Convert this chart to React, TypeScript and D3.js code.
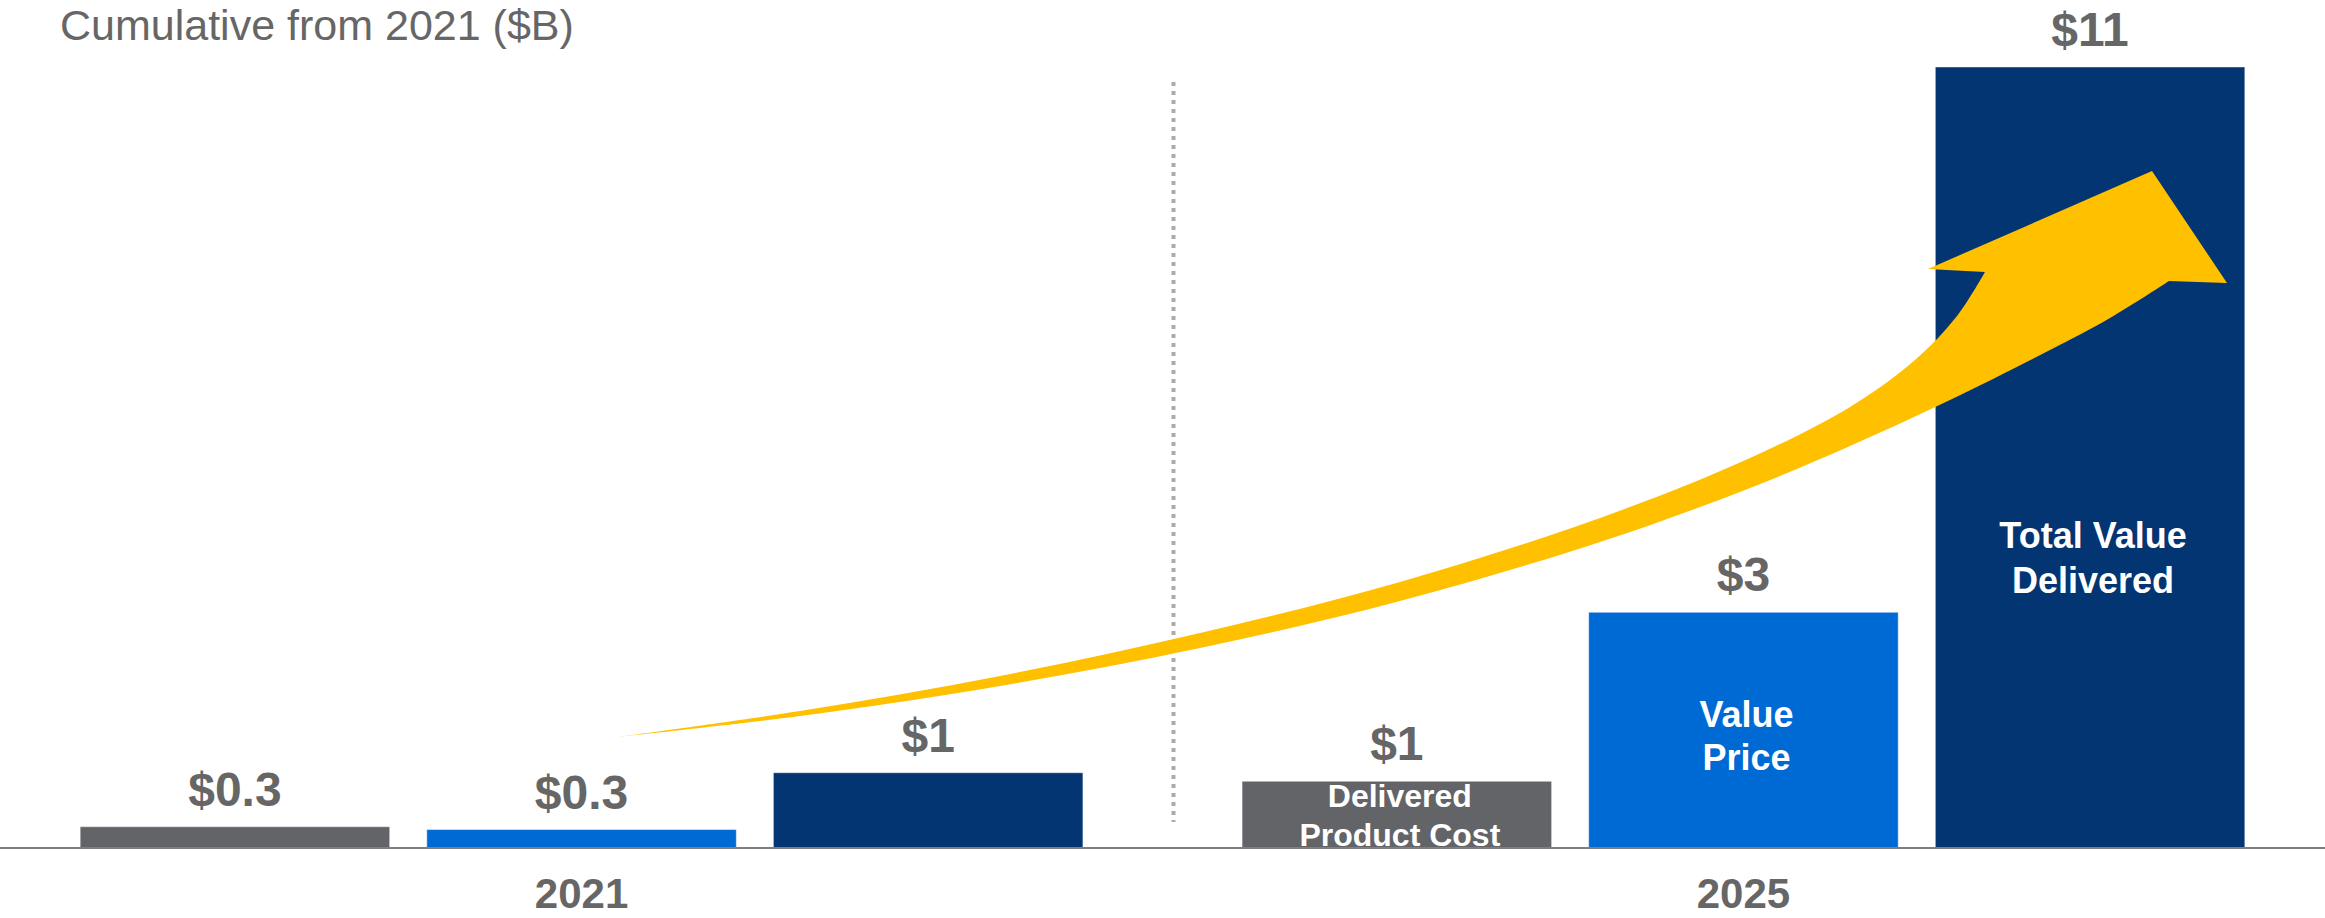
import React from "react";
import * as d3 from "d3";

// ---- data ----
const groups = ["2021", "2025"];
const series = ["Delivered Product Cost", "Value Price", "Total Value Delivered"];
const values2021 = [0.3, 0.26, 1.06];
const values2025 = [0.94, 3.32, 11.0];
const labels2021 = ["$0.3", "$0.3", "$1"];
const labels2025 = ["$1", "$3", "$11"];
const innerLabels2025 = [["Delivered", "Product Cost"], ["Value", "Price"], ["Total Value", "Delivered"]];
const title = "Cumulative from 2021 ($B)";

// ---- styles / layout ----
const W = 2325;
const H = 918;
const BASE_Y = 848;
const TOP_Y = 67;
const COLORS = ["#636467", "#006AD4", "#033572"];
const TEXT = "#666666";
const FONT = "'Liberation Sans', Arial, Helvetica, sans-serif";
const innerFont = [32, 36, 36];
const innerBaseOffsets = [[41, 2], [121, 78], [300, 255]]; // px above axis line

// decorative growth arrow (annotation, pixel space)
const ARROW_UPPER: [number, number][] = [
  [617, 737], [800, 711], [1000, 676], [1200, 633], [1400, 582], [1600, 518],
  [1750, 458], [1850, 407], [1915, 360], [1957, 316], [1985, 272],
];
const ARROW_HEAD: [number, number][] = [[1928, 269], [2152, 171], [2227, 283], [2169, 281]];
const ARROW_LOWER: [number, number][] = [
  [2169, 281], [2110, 318], [2050, 350], [1950, 400], [1850, 446], [1750, 488],
  [1600, 542], [1400, 601], [1200, 648], [1000, 686], [800, 716], [617, 737],
];

export default function App() {
  const x0 = d3.scaleBand<string>().domain(groups).range([0, W]).paddingInner(0.137).paddingOuter(0.069);
  const x1 = d3.scaleBand<string>().domain(series).range([0, x0.bandwidth()]).paddingInner(0.107).paddingOuter(0);
  const y = d3.scaleLinear().domain([0, 11]).range([BASE_Y, TOP_Y]);

  const data = [
    { g: "2021", vals: values2021, labels: labels2021, inner: null as string[][] | null },
    { g: "2025", vals: values2025, labels: labels2025, inner: innerLabels2025 },
  ];

  const line = d3.line().curve(d3.curveCatmullRom.alpha(0.5));
  const upper = line(ARROW_UPPER) || "";
  const lower = (line(ARROW_LOWER) || "").replace(/^M/, "L");
  const head = ARROW_HEAD.map((p) => `L${p[0]},${p[1]}`).join("");
  const arrowPath = upper + head + lower + "Z";

  const g1End = (x0("2021") || 0) + x0.bandwidth();
  const g2Start = x0("2025") || 0;
  const dividerX = (g1End + g2Start) / 2 + 11;

  return (
    <svg width={W} height={H} style={{ position: "absolute", left: 0, top: 0, background: "#fff" }} fontFamily={FONT}>
      <text x={60} y={40} fontSize={43} fill={TEXT}>{title}</text>

      <line x1={dividerX} x2={dividerX} y1={82} y2={822} stroke="#ababab" strokeWidth={4} strokeDasharray="4 5" />

      {data.map((d) => (
        <g key={d.g} transform={`translate(${x0(d.g)},0)`}>
          {series.map((s, i) => {
            const bx = x1(s) || 0;
            const bw = x1.bandwidth();
            const top = y(d.vals[i]);
            return (
              <g key={s}>
                <rect x={bx} y={top} width={bw} height={BASE_Y - top} fill={COLORS[i]} stroke="#ffffff" strokeOpacity={0.45} strokeWidth={1} />
                <text x={bx + bw / 2} y={top - 21} textAnchor="middle" fontSize={48} fontWeight="bold" fill={TEXT}>
                  {d.labels[i]}
                </text>
                {d.inner &&
                  d.inner[i].map((ln, k) => (
                    <text key={k} x={bx + bw / 2 + 3} y={BASE_Y - innerBaseOffsets[i][k]} textAnchor="middle" fontSize={innerFont[i]} fontWeight="bold" fill="#ffffff">
                      {ln}
                    </text>
                  ))}
              </g>
            );
          })}
          <text x={x0.bandwidth() / 2} y={908} textAnchor="middle" fontSize={42} fontWeight="bold" fill={TEXT}>
            {d.g}
          </text>
        </g>
      ))}

      <line x1={0} x2={W} y1={BASE_Y} y2={BASE_Y} stroke="#7f7f7f" strokeWidth={2} />

      <path d={arrowPath} fill="#FFC000" />
    </svg>
  );
}
